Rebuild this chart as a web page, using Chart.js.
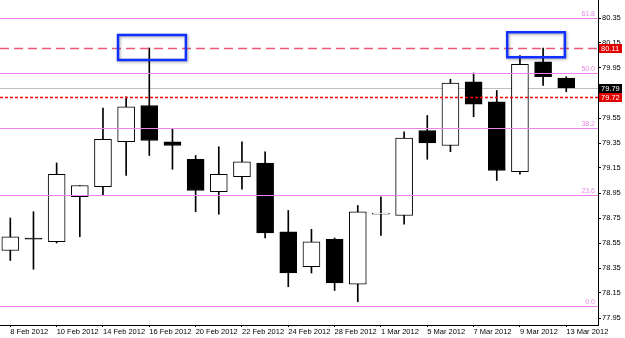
<!DOCTYPE html>
<html>
<head>
<meta charset="utf-8">
<script src="https://cdn.jsdelivr.net/npm/chart.js@4/dist/chart.umd.min.js"></script>
<style>
  html, body { margin: 0; padding: 0; background: #fff; }
  #wrap { width: 625px; height: 338px; }
</style>
</head>
<body>
<div id="wrap"><canvas id="candleChart" width="625" height="338"></canvas></div>
<script>
// Daily candles, 8 Feb - 13 Mar 2012
const dates = ['8 Feb 2012', '9 Feb 2012', '10 Feb 2012', '13 Feb 2012', '14 Feb 2012', '15 Feb 2012',
    '16 Feb 2012', '17 Feb 2012', '20 Feb 2012', '21 Feb 2012', '22 Feb 2012', '23 Feb 2012', '24 Feb 2012',
    '27 Feb 2012', '28 Feb 2012', '29 Feb 2012', '1 Mar 2012', '2 Mar 2012', '5 Mar 2012', '6 Mar 2012',
    '7 Mar 2012', '8 Mar 2012', '9 Mar 2012', '12 Mar 2012', '13 Mar 2012'];
const openPrices  = [78.49, 78.59, 78.56, 78.92, 79.00, 79.36, 79.65, 79.36, 79.22, 78.96, 79.08, 79.19, 78.64,
    78.36, 78.58, 78.22, 78.78, 78.77, 79.45, 79.33, 79.84, 79.68, 79.12, 80.00, 79.87];
const highPrices  = [78.75, 78.80, 79.19, 79.01, 79.63, 79.72, 80.11, 79.46, 79.25, 79.32, 79.36, 79.28, 78.81,
    78.66, 78.59, 78.85, 78.92, 79.44, 79.57, 79.86, 79.91, 79.77, 80.05, 80.11, 79.88];
const lowPrices   = [78.41, 78.34, 78.55, 78.60, 78.93, 79.09, 79.25, 79.14, 78.80, 78.78, 78.98, 78.59, 78.20,
    78.31, 78.17, 78.08, 78.61, 78.70, 79.22, 79.28, 79.56, 79.05, 79.10, 79.81, 79.76];
const closePrices = [78.60, 78.58, 79.10, 79.01, 79.38, 79.64, 79.37, 79.33, 78.97, 79.10, 79.20, 78.63, 78.31,
    78.56, 78.23, 78.80, 78.79, 79.39, 79.35, 79.83, 79.66, 79.13, 79.98, 79.88, 79.79];

// x axis shows every second day
const xTickIdx = [0, 2, 4, 6, 8, 10, 12, 14, 16, 18, 20, 22, 24];
// right price axis
const yTicks = [77.95, 78.15, 78.35, 78.55, 78.75, 78.95, 79.15, 79.35, 79.55, 79.75, 79.95, 80.15, 80.35];

// Fibonacci retracement levels
const fibLabels = ['0.0', '23.6', '38.2', '50.0', '61.8'];
const fibValues = [78.05, 78.93, 79.47, 79.91, 80.35];

// horizontal lines + price tags on the axis
const resistance = 80.11;
const bidPrice = 79.79;
const pivotLevel = 79.72;
const tagValues = [80.11, 79.79, 79.72];
const tagColors = ['#e00000', '#000000', '#e00000'];

// blue highlight boxes (index / price)
const boxStart = [4.65, 21.45];
const boxEnd = [7.58, 23.94];
const boxTop = [80.214, 80.236];
const boxBottom = [80.014, 80.036];

const FONT = '"Liberation Sans", Arial, sans-serif';

const bodies = dates.map((_, i) => ({ x: i, y: [openPrices[i], closePrices[i]] }));
const wicks = dates.map((_, i) => ({ x: i, y: [lowPrices[i], highPrices[i]] }));
const bodyColors = dates.map((_, i) => closePrices[i] >= openPrices[i] ? '#ffffff' : '#000000');

function hLine(ctx, area, y, color, width, dash) {
    ctx.save();
    ctx.strokeStyle = color;
    ctx.lineWidth = width;
    ctx.setLineDash(dash);
    ctx.beginPath();
    ctx.moveTo(area.left, Math.round(y) + 0.5);
    ctx.lineTo(area.right, Math.round(y) + 0.5);
    ctx.stroke();
    ctx.restore();
}

// no extra label padding, the plot fills the canvas
function noPadding(scale) {
    scale.paddingLeft = 0;
    scale.paddingRight = 0;
    scale.paddingTop = 0;
    scale.paddingBottom = 0;
}

// bid line goes behind the candles
const backLines = {
    id: 'backLines',
    beforeDatasetsDraw(chart) {
        const y = chart.scales.y;
        hLine(chart.ctx, chart.chartArea, y.getPixelForValue(bidPrice), '#c0c0c0', 1, []);
    }
};

// fibo, dashed/dotted levels, boxes and price tags on top
const overlays = {
    id: 'overlays',
    afterDraw(chart) {
        const ctx = chart.ctx;
        const area = chart.chartArea;
        const x = chart.scales.x;
        const y = chart.scales.y;

        fibValues.forEach((v, i) => {
            const py = y.getPixelForValue(v);
            hLine(ctx, area, py, '#ee82ee', 1, []);
            ctx.save();
            ctx.fillStyle = '#e88ae8';
            ctx.font = '7px ' + FONT;
            ctx.textAlign = 'right';
            ctx.textBaseline = 'bottom';
            ctx.fillText(fibLabels[i], area.right - 3, Math.round(py));
            ctx.restore();
        });

        hLine(ctx, area, y.getPixelForValue(resistance), '#ec5876', 1.5, [9, 5]);
        hLine(ctx, area, y.getPixelForValue(pivotLevel), '#ff0000', 1.5, [3, 2]);

        boxStart.forEach((s, i) => {
            const x0 = x.getPixelForValue(s);
            const x1 = x.getPixelForValue(boxEnd[i]);
            const y0 = y.getPixelForValue(boxTop[i]);
            const y1 = y.getPixelForValue(boxBottom[i]);
            ctx.save();
            ctx.shadowColor = 'rgba(0,0,0,0.35)';
            ctx.shadowBlur = 3;
            ctx.shadowOffsetX = 1;
            ctx.shadowOffsetY = 1;
            ctx.strokeStyle = '#1030ff';
            ctx.lineWidth = 2.5;
            ctx.strokeRect(x0, y0, x1 - x0, y1 - y0);
            ctx.restore();
        });

        tagValues.forEach((v, i) => {
            const py = Math.round(y.getPixelForValue(v));
            ctx.save();
            ctx.fillStyle = tagColors[i];
            ctx.fillRect(area.right + 1, py - 4, 23, 9);
            ctx.fillStyle = '#ffffff';
            ctx.font = '7.5px ' + FONT;
            ctx.textAlign = 'left';
            ctx.textBaseline = 'middle';
            ctx.fillText(v.toFixed(2), area.right + 3, py + 0.5);
            ctx.restore();
        });
    }
};

const ctx = document.getElementById('candleChart').getContext('2d');
new Chart(ctx, {
    type: 'bar',
    data: {
        datasets: [
            {
                label: 'Body',
                data: bodies,
                backgroundColor: bodyColors,
                borderColor: '#000000',
                borderWidth: 1,
                borderSkipped: false,
                barThickness: 17,
                grouped: false
            },
            {
                label: 'Wick',
                data: wicks,
                backgroundColor: '#000000',
                borderWidth: 0,
                barThickness: 1,
                grouped: false
            }
        ]
    },
    options: {
        responsive: false,
        animation: false,
        layout: { padding: 0 },
        plugins: {
            legend: { display: false },
            tooltip: { enabled: false }
        },
        scales: {
            x: {
                type: 'linear',
                offset: false,
                min: -0.445,
                max: 25.37,
                afterBuildTicks: (scale) => { scale.ticks = xTickIdx.map(v => ({ value: v })); },
                afterFit: (scale) => { scale.height = 13; noPadding(scale); },
                grid: { offset: false, drawOnChartArea: false, drawTicks: true, tickLength: 2, color: '#000000' },
                border: { display: true, color: '#000000' },
                ticks: {
                    autoSkip: false,
                    maxRotation: 0,
                    align: 'start',
                    padding: 0,
                    color: '#000000',
                    font: { family: FONT, size: 7.5 },
                    callback: (v) => dates[v]
                }
            },
            y: {
                position: 'right',
                min: 77.894,
                max: 80.494,
                afterBuildTicks: (scale) => { scale.ticks = yTicks.map(v => ({ value: v })); },
                afterFit: (scale) => { scale.width = 27; noPadding(scale); },
                grid: { drawOnChartArea: false, drawTicks: true, tickLength: 3, color: '#000000' },
                border: { display: true, color: '#000000' },
                ticks: {
                    padding: 1,
                    color: '#000000',
                    font: { family: FONT, size: 7.5 },
                    callback: (v) => Number(v).toFixed(2)
                }
            }
        }
    },
    plugins: [backLines, overlays]
});
</script>
</body>
</html>
